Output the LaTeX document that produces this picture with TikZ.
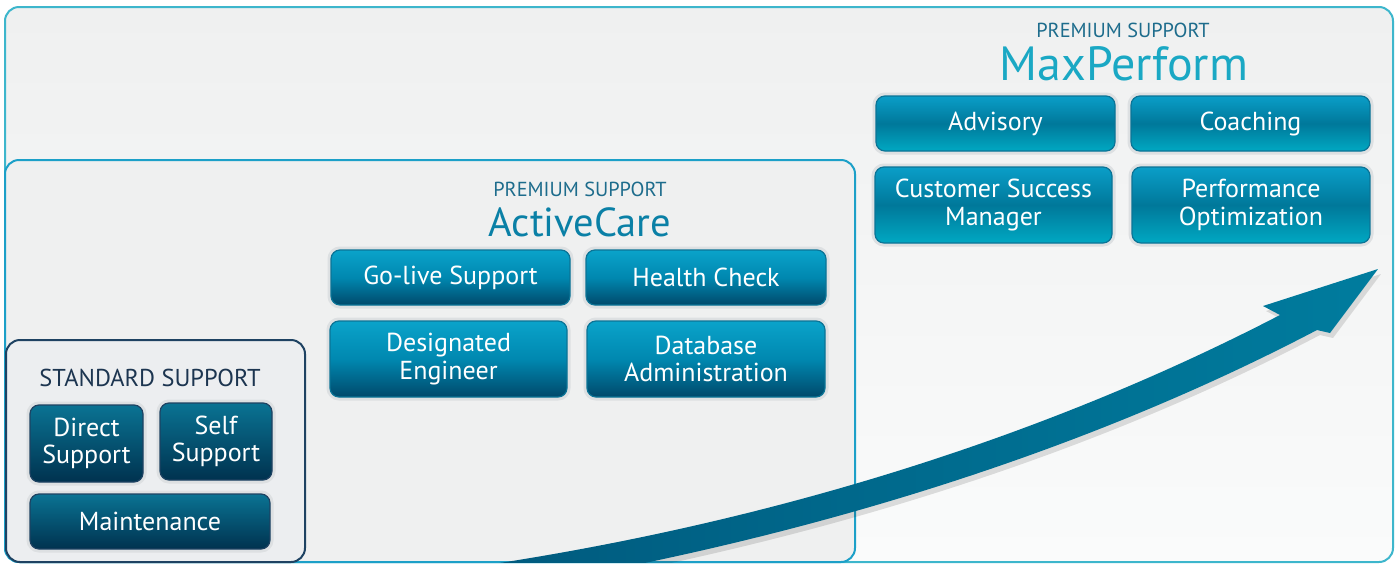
\documentclass[tikz,border=0pt]{standalone}
\usepackage{fontspec}
\setmainfont{PT Sans}
\definecolor{outerbd}{HTML}{3DB6CC}
\definecolor{acbd}{HTML}{1CA0C8}
\definecolor{stdbd}{HTML}{1E4262}
\definecolor{bgtop}{HTML}{EFF0F0}
\definecolor{bgbot}{HTML}{FAFBFB}
\definecolor{acbg}{HTML}{EFF0F0}
\definecolor{stdbg}{HTML}{ECEEF0}
\definecolor{halo}{HTML}{DDE0E2}
\definecolor{premc}{HTML}{1D6C8C}
\definecolor{acc}{HTML}{0A80A6}
\definecolor{mpc}{HTML}{1AA8C4}
\definecolor{stdc}{HTML}{1C3550}
\definecolor{arL}{HTML}{005A7E}
\definecolor{arR}{HTML}{007C9E}
\definecolor{stdTop}{HTML}{0A7393}
\definecolor{stdBot}{HTML}{00324F}
\definecolor{acTop}{HTML}{0AA3CA}
\definecolor{acMid}{HTML}{0088B0}
\definecolor{acBot}{HTML}{00496B}
\definecolor{mpTop}{HTML}{0A9EC8}
\definecolor{mpMid}{HTML}{00789A}
\definecolor{mpBot}{HTML}{00A8C2}
\definecolor{btnbd}{HTML}{0B7496}
\begin{document}
\begin{tikzpicture}[x=1pt,y=-1pt,
  panel/.style={rectangle, rounded corners=14pt, line width=2pt, inner sep=0pt},
  btn/.style={rectangle, rounded corners=9pt, inner sep=0pt, align=center, text=white,
    font=\fontsize{26}{27.5}\selectfont, line width=1.2pt,
    preaction={draw=halo, line width=7pt}},
  btnstd/.style={btn, draw=stdbd, top color=stdTop, bottom color=stdBot},
  btnac/.style={btn, draw=btnbd, top color=acTop, bottom color=acBot, middle color=acMid},
  btnmp/.style={btn, draw=btnbd, top color=mpTop, bottom color=mpBot, middle color=mpMid},
  prem/.style={font=\fontsize{20.3}{20.3}\selectfont, text=premc, anchor=base, inner sep=0pt},
]
\useasboundingbox (0,0) rectangle (1400,563);
\fill[white] (0,0) rectangle (1400,563);

% panels
\node[panel, draw=outerbd, top color=bgtop, bottom color=bgbot, minimum width=1388pt, minimum height=555pt] (maxp) at (699,284.5) {};
\node[panel, draw=acbd, fill=acbg, minimum width=850pt, minimum height=402pt] (actc) at (430,361) {};
\node[panel, draw=stdbd, fill=stdbg, minimum width=299pt, minimum height=222pt] (stds) at (155.5,451) {};

% titles
\node[prem] (mpprem) at (1123,37) {PREMIUM SUPPORT};
\node[font=\fontsize{48}{48}\selectfont, text=mpc, anchor=base, inner sep=0pt] (mptitle) at (1124,80) {MaxPerform};
\node[prem] (acprem) at (580,196) {PREMIUM SUPPORT};
\node[font=\fontsize{40.5}{40.5}\selectfont, text=acc, anchor=base, inner sep=0pt] (actitle) at (580,236) {ActiveCare};
\node[font=\fontsize{24.4}{24.4}\selectfont, text=stdc, anchor=base, inner sep=0pt] (stdtitle) at (150,386) {STANDARD SUPPORT};

% standard buttons
\node[btnstd, minimum width=113pt, minimum height=77pt] (direct) at (86.5,443.5) {Direct\\Support};
\node[btnstd, minimum width=112pt, minimum height=77pt] (self) at (216,441.5) {Self\\Support};
\node[btnstd, minimum width=240pt, minimum height=55pt] (maint) at (150,521.5) {Maintenance};

% activecare buttons
\node[btnac, minimum width=239pt, minimum height=55pt] (golive) at (450.5,277.5) {Go-live Support};
\node[btnac, minimum width=240pt, minimum height=55pt] (health) at (706,277.5) {Health Check};
\node[btnac, minimum width=237pt, minimum height=76pt] (desig) at (448.5,359) {Designated\\Engineer};
\node[btnac, minimum width=238pt, minimum height=76pt] (dba) at (706,359) {Database\\Administration};

% maxperform buttons
\node[btnmp, minimum width=239pt, minimum height=55pt] (adv) at (995.5,123.5) {Advisory};
\node[btnmp, minimum width=239pt, minimum height=55pt] (coach) at (1250.5,123.5) {Coaching};
\node[btnmp, minimum width=237pt, minimum height=76pt] (csm) at (993.5,205) {Customer Success\\Manager};
\node[btnmp, minimum width=238pt, minimum height=76pt] (perf) at (1251,205) {Performance\\Optimization};

% arrow
\newcommand\myarrowpath{(500,590) .. controls (816,538) and (1092,448) .. (1317,330)
  -- (1330,333) -- (1378,269) -- (1263,306) -- (1280,315)
  .. controls (1068,425) and (800,518) .. (480,566) -- cycle}
\begin{scope}
\clip (6,0) rectangle (1394,562);
\fill[black, opacity=0.12, shift={(3,5)}] \myarrowpath;
\shade[left color=arL, right color=arR] \myarrowpath;
\end{scope}
\end{tikzpicture}
\end{document}
